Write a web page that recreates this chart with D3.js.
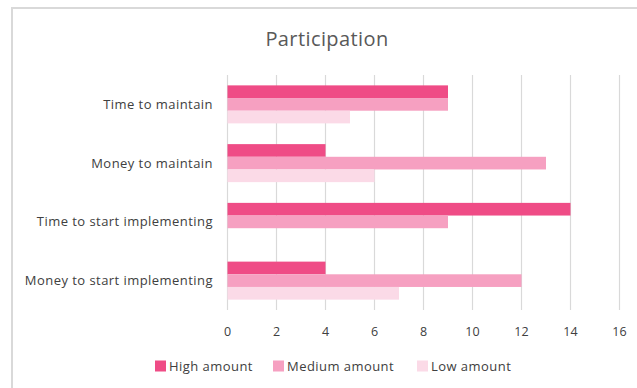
<!DOCTYPE html>
<html><head><meta charset="utf-8">
<script src="https://cdn.jsdelivr.net/npm/d3@7"></script>
<style>body{margin:0;background:#fff;}svg{display:block;font-family:"Open Sans",sans-serif;}</style>
</head><body>
<script>
const categories = ["Time to maintain","Money to maintain","Time to start implementing","Money to start implementing"];
const seriesNames = ["High amount","Medium amount","Low amount"];
const highValues = [9,4,14,4];
const mediumValues = [9,13,9,12];
const lowValues = [5,6,0,7];
const xTicks = [0,2,4,6,8,10,12,14,16];
const colors = ["#EF4C86","#F6A0C1","#FBDAE7"];

const W=637,H=388;
const svg=d3.select("body").append("svg").attr("width",W).attr("height",H);
svg.append("path").attr("d","M12,"+H+" V8 H"+W).attr("fill","none").attr("stroke","#d9d9d9").attr("stroke-width",2);

svg.append("text").attr("x",327).attr("y",46).attr("text-anchor","middle")
  .attr("font-size",20).attr("letter-spacing",0.4).attr("fill","#595959").text("Participation");

const x=d3.scaleLinear().domain([0,16]).range([227.5,619.5]);
const y=d3.scaleBand().domain(categories).range([75,310]).paddingInner(0.353).paddingOuter(0.1765);
const ys=d3.scaleBand().domain(seriesNames).range([0,y.bandwidth()]);

svg.append("g").selectAll("line").data(xTicks).join("line")
  .attr("x1",d=>x(d)).attr("x2",d=>x(d)).attr("y1",75).attr("y2",310)
  .attr("stroke","#d9d9d9").attr("stroke-width",1.2);

const data=[highValues,mediumValues,lowValues];
seriesNames.forEach((s,i)=>{
  svg.append("g").selectAll("rect").data(categories).join("rect")
    .attr("x",x(0)).attr("y",c=>y(c)+ys(s))
    .attr("width",(c,j)=>x(data[i][j])-x(0)).attr("height",ys.bandwidth())
    .attr("fill",colors[i]);
});

svg.append("g").selectAll("text").data(categories).join("text")
  .attr("x",213).attr("y",c=>y(c)+y.bandwidth()/2).attr("dy","0.35em")
  .attr("text-anchor","end").attr("font-size",13).attr("letter-spacing",0.45).attr("fill","#404040").text(d=>d);

svg.append("g").selectAll("text").data(xTicks).join("text")
  .attr("x",d=>x(d)).attr("y",332).attr("dy","0.35em").attr("text-anchor","middle")
  .attr("font-size",12.5).attr("fill","#404040").text(d=>d);

const legX=[155,273,417];
seriesNames.forEach((s,i)=>{
  const g=svg.append("g").attr("transform","translate("+legX[i]+",366)");
  g.append("rect").attr("x",0).attr("y",-5.5).attr("width",11).attr("height",11).attr("fill",colors[i]);
  g.append("text").attr("x",14).attr("y",0).attr("dy","0.35em").attr("font-size",13).attr("letter-spacing",0.45).attr("fill","#404040").text(s);
});
</script>
</body></html>
